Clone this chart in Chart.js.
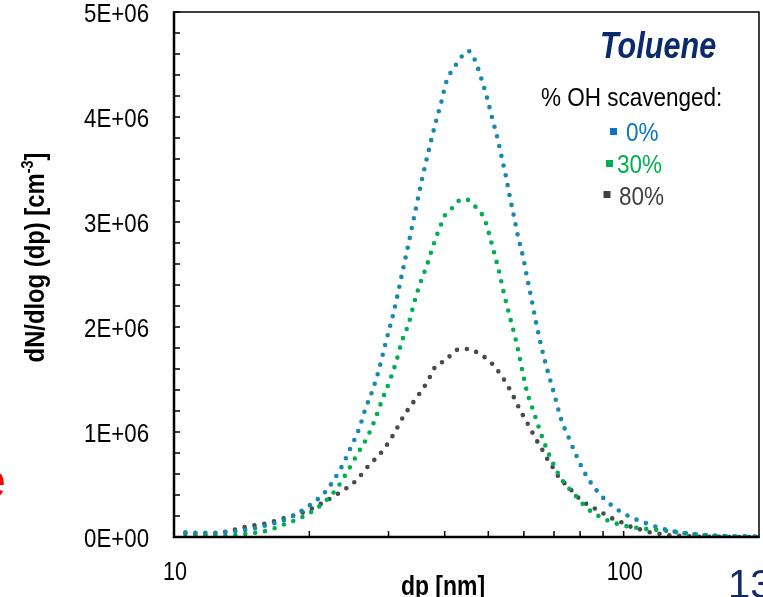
<!DOCTYPE html>
<html><head><meta charset="utf-8">
<script src="https://cdn.jsdelivr.net/npm/chart.js@4/dist/chart.umd.min.js"></script>
<style>html,body{margin:0;padding:0;background:#fff;}canvas{display:block;}</style>
</head><body>
<canvas id="c" width="763" height="597"></canvas>
<script>
// ---------- data (values in units of 1E+06 cm^-3) ----------
const UNIT = 1e6;
const seriesNames = ['0%', '30%', '80%'];
const dp0 = [10.6, 11.2, 12, 13, 14, 15, 16, 17, 18, 19, 20, 21.7, 23.6, 24.7, 25.8, 26.6, 27.6, 28.5, 29.6, 30.8, 32.2, 33.3, 34.4, 35.5, 36.8, 38.2, 39.3, 40.3, 41.2, 42.4, 43.7, 45.1, 46.6, 48.3, 49.7, 51.0, 52.4, 53.6, 54.8, 55.9, 57.1, 58.3, 59.8, 61.0, 62.3, 63.6, 65.0, 66.6, 68.5, 70.5, 72.5, 75.4, 78.6, 82.2, 87.2, 94.1, 102.5, 113.5, 124.9, 140, 164, 200];
const n0 = [0.045, 0.04, 0.04, 0.045, 0.06, 0.08, 0.11, 0.14, 0.18, 0.235, 0.30, 0.43, 0.67, 0.85, 1.03, 1.21, 1.39, 1.58, 1.86, 2.14, 2.52, 2.81, 3.10, 3.38, 3.67, 3.95, 4.14, 4.33, 4.42, 4.50, 4.58, 4.63, 4.55, 4.36, 4.18, 3.99, 3.80, 3.61, 3.42, 3.23, 3.04, 2.85, 2.66, 2.47, 2.28, 2.08, 1.89, 1.70, 1.51, 1.32, 1.13, 0.95, 0.77, 0.60, 0.44, 0.30, 0.20, 0.124, 0.067, 0.03, 0.01, 0.005];
const dp30 = [10.6, 12, 13.05, 14.5, 16.1, 17.7, 19.5, 21.3, 22.9, 24.2, 25.5, 26.9, 28.0, 29.0, 30.2, 31.2, 32.1, 33.3, 34.2, 35.3, 36.6, 37.8, 39.2, 40.0, 41.5, 42.9, 44.4, 46.7, 48.3, 49.4, 50.1, 51.5, 52.9, 54.1, 55.5, 57.0, 58.4, 59.6, 61.0, 63.1, 66.3, 69.0, 72.5, 77.6, 83.1, 90.9, 100.3, 111.3, 123.6, 137.7, 152.7, 168.8, 200];
const n30 = [0.005, 0.008, 0.012, 0.03, 0.06, 0.125, 0.20, 0.31, 0.45, 0.61, 0.78, 0.95, 1.12, 1.30, 1.49, 1.67, 1.86, 2.04, 2.23, 2.42, 2.60, 2.79, 2.97, 3.06, 3.13, 3.20, 3.22, 3.15, 3.08, 2.99, 2.90, 2.71, 2.52, 2.33, 2.14, 1.95, 1.76, 1.57, 1.38, 1.19, 0.92, 0.74, 0.56, 0.41, 0.27, 0.17, 0.108, 0.079, 0.06, 0.035, 0.019, 0.007, 0.002];
const dp80 = [10.6, 11.8, 13.05, 14.4, 16.0, 17.6, 19.4, 21.3, 23.3, 25.3, 27.1, 29.1, 30.8, 32.4, 34.4, 36.5, 38.4, 40.3, 41.7, 43.7, 45.6, 47.8, 49.9, 51.7, 53.4, 54.9, 56.4, 57.6, 59.0, 60.6, 62.1, 63.6, 65.4, 67.0, 68.8, 70.7, 73.2, 75.6, 78.6, 81.6, 85.6, 89.6, 94.0, 98.3, 103.4, 108.7, 114.4, 120.5, 126, 133, 147, 200];
const n80 = [0.035, 0.026, 0.05, 0.095, 0.13, 0.18, 0.235, 0.32, 0.42, 0.53, 0.68, 0.82, 0.98, 1.15, 1.31, 1.47, 1.64, 1.68, 1.76, 1.79, 1.79, 1.74, 1.69, 1.62, 1.54, 1.46, 1.37, 1.29, 1.20, 1.11, 1.03, 0.94, 0.86, 0.77, 0.70, 0.61, 0.53, 0.47, 0.39, 0.33, 0.28, 0.23, 0.18, 0.145, 0.10, 0.073, 0.045, 0.029, 0.016, 0.012, 0.003, 0.0];

const xLabelValues = [10, 100];
const xTickMarks = [20, 30, 40, 50, 60, 70, 80, 90, 100];
const xMin = 10, xMax = 200;
const yMin = 0, yMax = 5e6, yMajorStep = 1e6, yMinorStep = 2e5;

const chartTitle = 'Toluene';
const legendTitle = '% OH scavenged:';
const xTitle = 'dp [nm]';
const yTitleMain = 'dN/dlog (dp) [cm', yTitleSup = '-3', yTitleEnd = ']';

// ---------- styles ----------
const FONT = "'Liberation Sans', Arial, sans-serif";
const lineColors = ['#1689ad', '#00b050', '#4a4a4a'];
const legendColors = ['#0a74c6', '#00b050', '#404040'];

const xs = [dp0, dp30, dp80], ys = [n0, n30, n80];

function fmtSci(v) {
  if (v === 0) return '0E+00';
  const e = Math.floor(Math.log10(Math.abs(v)) + 1e-9);
  const m = Math.round(v / Math.pow(10, e) * 100) / 100;
  return m + 'E+' + String(e).padStart(2, '0');
}

const datasets = seriesNames.map((name, i) => ({
  label: name,
  data: xs[i].map((d, k) => ({ x: d, y: ys[i][k] * UNIT })),
  borderColor: lineColors[i],
  borderWidth: 4.6,
  borderDash: [0, 10],
  borderCapStyle: 'round',
  pointRadius: 0,
  fill: false,
  cubicInterpolationMode: 'monotone'
}));

// draw horizontally condensed text
function narrowText(ctx, txt, x, y, font, color, sx, align) {
  ctx.save();
  ctx.font = font;
  ctx.fillStyle = color;
  ctx.textAlign = 'left';
  ctx.textBaseline = 'alphabetic';
  const w = ctx.measureText(txt).width * sx;
  let x0 = x;
  if (align === 'center') x0 = x - w / 2;
  else if (align === 'right') x0 = x - w;
  ctx.translate(x0, y);
  ctx.scale(sx, 1);
  ctx.fillText(txt, 0, 0);
  ctx.restore();
  return w;
}

const decor = {
  id: 'decor',
  afterDatasetsDraw(chart) {
    const { ctx, chartArea: a, scales: { x, y } } = chart;
    ctx.save();
    ctx.strokeStyle = '#000';
    ctx.lineCap = 'butt';
    ctx.lineWidth = 1.5;
    ctx.beginPath();
    ctx.moveTo(a.left, a.top); ctx.lineTo(a.right, a.top); ctx.lineTo(a.right, a.bottom);
    ctx.stroke();
    ctx.lineWidth = 2.5;
    ctx.beginPath();
    ctx.moveTo(a.left, a.top - 0.75); ctx.lineTo(a.left, a.bottom); ctx.lineTo(a.right + 0.75, a.bottom);
    ctx.stroke();
    ctx.lineWidth = 1.5;
    ctx.beginPath();
    const nMinor = Math.round((yMax - yMin) / yMinorStep);
    for (let i = 0; i <= nMinor; i++) {
      const py = y.getPixelForValue(yMin + i * yMinorStep);
      ctx.moveTo(a.left, py); ctx.lineTo(a.left + 6, py);
    }
    xTickMarks.forEach(v => {
      const px = x.getPixelForValue(v);
      ctx.moveTo(px, a.bottom); ctx.lineTo(px, a.bottom - 6);
    });
    ctx.stroke();
    ctx.restore();
  },
  afterDraw(chart) {
    const { ctx, chartArea: a, scales: { x, y } } = chart;
    // tick labels from the scales
    y.ticks.forEach(t => {
      const py = y.getPixelForValue(t.value);
      narrowText(ctx, fmtSci(t.value), a.left - 25, py + 9.5, "25px " + FONT, '#000', 0.89, 'right');
    });
    xLabelValues.forEach(v => {
      const px = x.getPixelForValue(v);
      narrowText(ctx, String(v), px + 1, a.bottom + 43, "26px " + FONT, '#000', 0.83, 'center');
    });
    // title & legend
    narrowText(ctx, chartTitle, 600, 58, "italic bold 36px " + FONT, '#0b2a6c', 0.85);
    narrowText(ctx, legendTitle, 541, 106, "25px " + FONT, '#000', 0.9);
    const legPos = [[610, 128, 626, 141], [606, 160, 617, 173], [603.5, 191, 619, 205]];
    seriesNames.forEach((nm, i) => {
      const [sx, sy, tx, ty] = legPos[i];
      ctx.fillStyle = legendColors[i];
      ctx.fillRect(sx, sy, 7, 7);
      narrowText(ctx, nm, tx, ty, "25px " + FONT, legendColors[i], 0.9);
    });
    // x title
    narrowText(ctx, xTitle, 443, 595, "bold 28px " + FONT, '#000', 0.82, 'center');
    // y title (rotated)
    ctx.save();
    ctx.translate(44, 257.5);
    ctx.rotate(-Math.PI / 2);
    const sxT = 0.85;
    const fMain = "bold 28px " + FONT, fSup = "bold 17px " + FONT;
    ctx.font = fMain;
    const w1 = ctx.measureText(yTitleMain).width * sxT, w3 = ctx.measureText(yTitleEnd).width * sxT;
    ctx.font = fSup;
    const w2 = ctx.measureText(yTitleSup).width * sxT;
    const s0 = -(w1 + w2 + w3) / 2;
    narrowText(ctx, yTitleMain, s0, 0, fMain, '#000', sxT);
    narrowText(ctx, yTitleSup, s0 + w1, -11, fSup, '#000', sxT);
    narrowText(ctx, yTitleEnd, s0 + w1 + w2, 0, fMain, '#000', sxT);
    ctx.restore();
    // slide artifacts
    ctx.save();
    ctx.textAlign = 'right';
    ctx.fillStyle = '#ff0000';
    ctx.font = "48px " + FONT;
    ctx.fillText('e', 6, 497);
    ctx.textAlign = 'left';
    ctx.fillStyle = '#13296b';
    ctx.font = "40px " + FONT;
    ctx.fillText('13', 728, 598);
    ctx.restore();
  }
};

new Chart(document.getElementById('c'), {
  type: 'line',
  data: { datasets },
  options: {
    responsive: false,
    animation: false,
    devicePixelRatio: 1,
    layout: { padding: { left: 0, top: 12, right: 4, bottom: 0 } },
    plugins: { legend: { display: false }, tooltip: { enabled: false } },
    scales: {
      x: {
        type: 'logarithmic', min: xMin, max: xMax,
        grid: { display: false }, border: { display: false },
        afterBuildTicks: s => { s.ticks = xLabelValues.map(v => ({ value: v })); },
        afterFit: s => { s.height = 60; s.paddingLeft = 0; s.paddingRight = 0; },
        ticks: { display: false }
      },
      y: {
        type: 'linear', min: yMin, max: yMax,
        grid: { display: false }, border: { display: false },
        afterFit: s => { s.width = 174; s.paddingTop = 0; s.paddingBottom = 0; },
        ticks: { display: false, stepSize: yMajorStep }
      }
    }
  },
  plugins: [decor]
});
</script>
</body></html>
